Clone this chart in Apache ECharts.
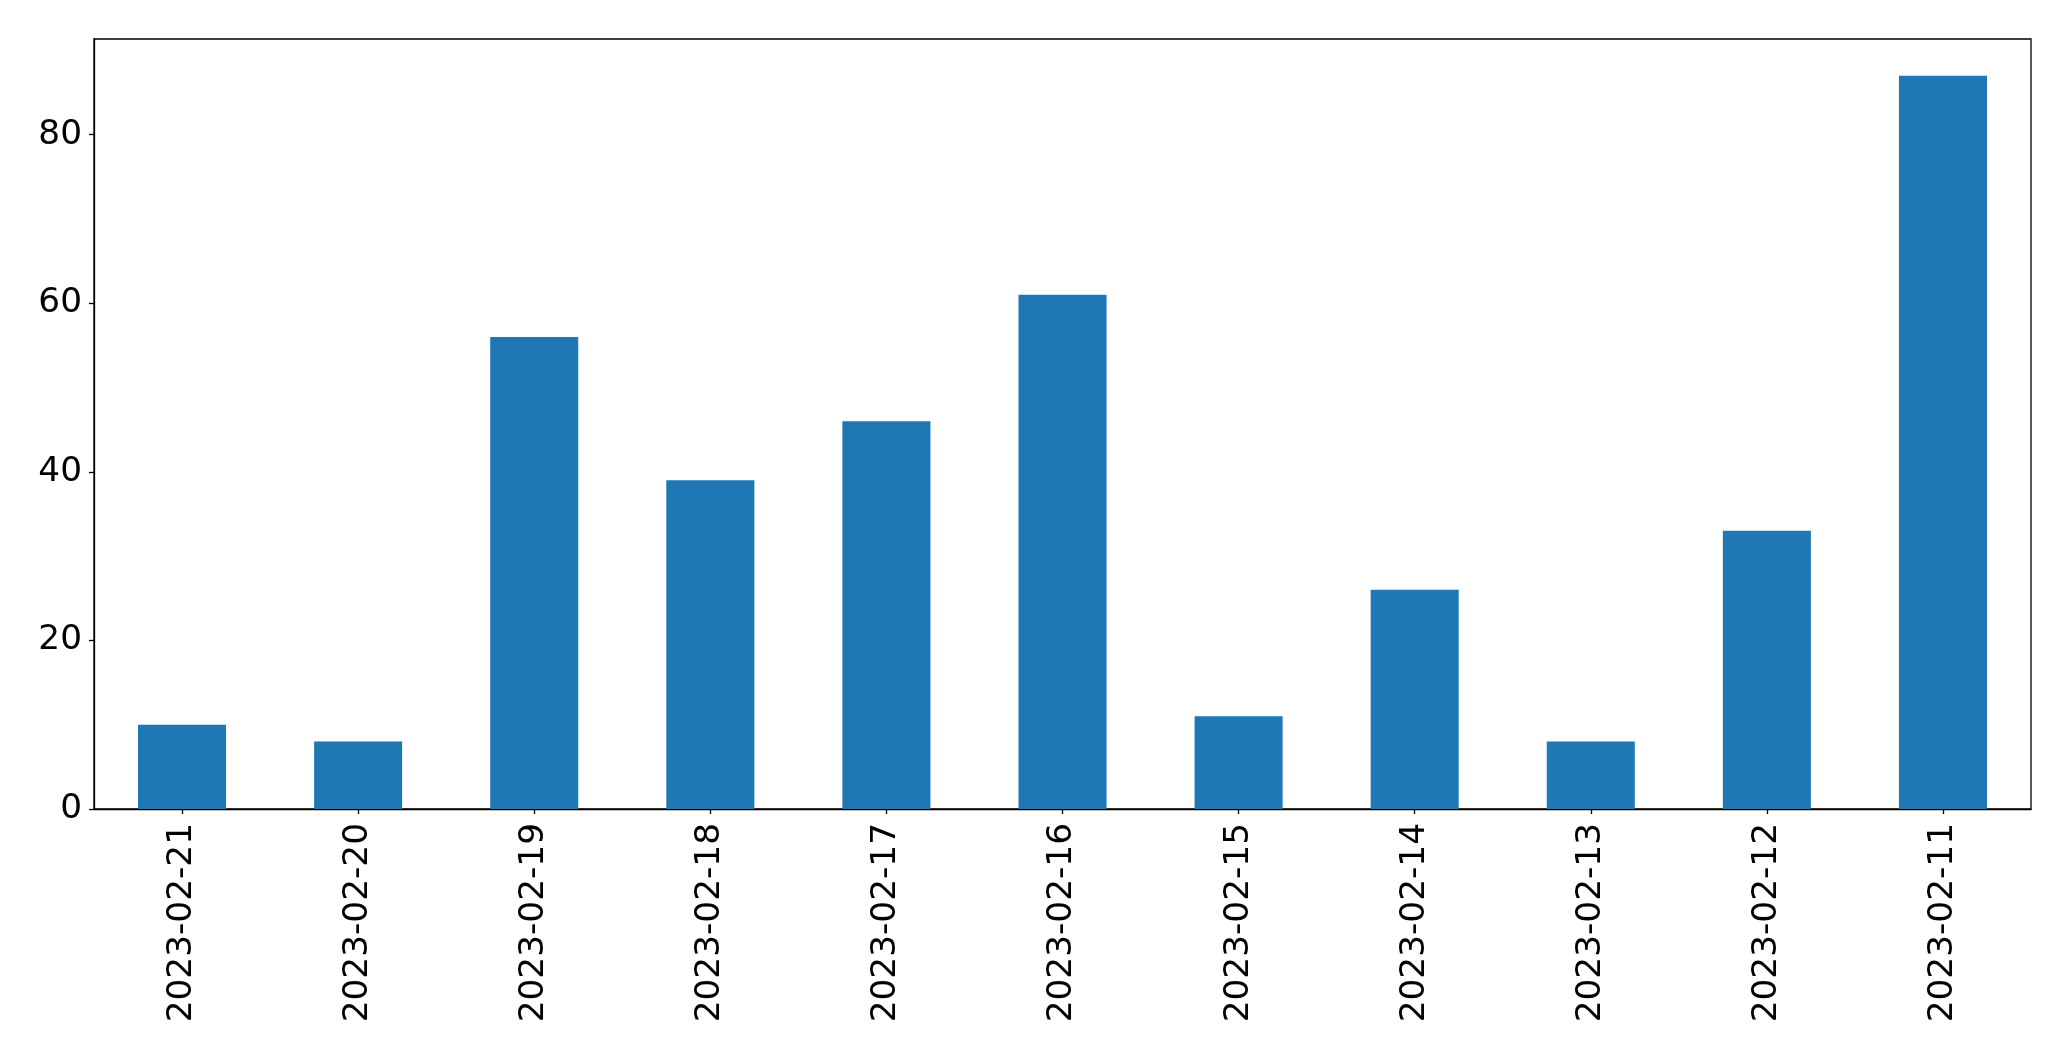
<!DOCTYPE html>
<html>
<head>
<meta charset="utf-8">
<script src="https://cdn.jsdelivr.net/npm/echarts@6/dist/echarts.min.js"></script>
<style>
html,body{margin:0;padding:0;background:#fff;}
#chart{width:2071px;height:1061px;}
</style>
</head>
<body>
<div id="chart"></div>
<script>
const categories = ["2023-02-21","2023-02-20","2023-02-19","2023-02-18","2023-02-17","2023-02-16","2023-02-15","2023-02-14","2023-02-13","2023-02-12","2023-02-11"];
const values = [10, 8, 56, 39, 46, 61, 11, 26, 8, 33, 87];
const yTicks = [0, 20, 40, 60, 80];

const chart = echarts.init(document.getElementById('chart'), null, {renderer: 'canvas'});
const font = 'DejaVu Sans';
chart.setOption({
  animation: false,
  backgroundColor: '#ffffff',
  grid: {
    left: 94, right: 40, top: 39, bottom: 252,
    show: true, borderColor: '#000000', borderWidth: 1.3, backgroundColor: 'transparent'
  },
  xAxis: {
    type: 'category',
    data: categories,
    boundaryGap: true,
    axisLine: {show: true, lineStyle: {color: '#000', width: 1.3}},
    axisTick: {show: true, alignWithLabel: true, length: 5, lineStyle: {color: '#000', width: 1.3}},
    axisLabel: {rotate: 90, margin: 14, color: '#000', fontFamily: font, fontSize: 34.3, interval: 0}
  },
  yAxis: {
    type: 'value',
    min: 0,
    max: 91.35,
    interval: 20,
    splitLine: {show: false},
    axisLine: {show: true, lineStyle: {color: '#000', width: 1.3}},
    axisTick: {show: true, length: 5, lineStyle: {color: '#000', width: 1.3}, customValues: yTicks},
    axisLabel: {color: '#000', fontFamily: font, fontSize: 34.3, margin: 12, customValues: yTicks}
  },
  series: [{
    type: 'bar',
    data: values,
    barWidth: '50%',
    itemStyle: {color: '#1f77b4'}
  }]
});
</script>
</body>
</html>
